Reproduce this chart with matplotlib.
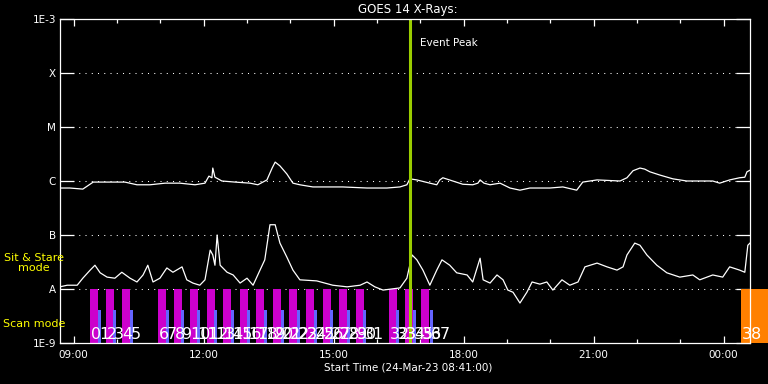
import matplotlib
matplotlib.use('Agg')
import matplotlib.pyplot as plt
import matplotlib.transforms as mtransforms
from matplotlib.ticker import FixedLocator, MultipleLocator, FuncFormatter
import numpy as np

# Time axis in hours of day (values above 24 are after midnight)
t_start = 8 + 41 / 60.0
t_end = 24.61
peak_time = 16.76

# Long channel (1-8 A), log10 flux
long_time = [8.68, 8.91, 9.21, 9.45, 9.84, 10.18, 10.46, 10.76, 11.11, 11.45, 11.80, 12.03,
             12.12, 12.19, 12.21, 12.26, 12.33, 12.42, 12.72, 13.07, 13.25, 13.46, 13.58, 13.65,
             13.76, 13.92, 14.06, 14.22, 14.52, 15.21, 15.77, 16.23, 16.53, 16.69, 16.76, 16.92,
             17.22, 17.38, 17.45, 17.52, 17.75, 17.98, 18.21, 18.33, 18.38, 18.47, 18.61, 18.84,
             19.07, 19.30, 19.53, 19.99, 20.29, 20.61, 20.75, 21.08, 21.61, 21.77, 21.91, 22.07,
             22.18, 22.30, 22.53, 22.83, 23.15, 23.75, 23.91, 24.14, 24.37, 24.49, 24.54, 24.61]
long_log = [-6.13, -6.13, -6.15, -6.02, -6.02, -6.02, -6.07, -6.07, -6.04, -6.04, -6.07, -6.04,
            -5.91, -5.94, -5.76, -5.93, -5.96, -6.00, -6.02, -6.04, -6.07, -5.98, -5.76, -5.65,
            -5.72, -5.87, -6.04, -6.07, -6.11, -6.11, -6.13, -6.13, -6.11, -6.07, -5.96, -5.98,
            -6.04, -6.07, -5.98, -5.94, -6.00, -6.06, -6.07, -6.04, -5.98, -6.04, -6.07, -6.04,
            -6.13, -6.17, -6.13, -6.13, -6.11, -6.17, -6.02, -5.98, -6.00, -5.94, -5.81, -5.76,
            -5.78, -5.83, -5.89, -5.96, -6.00, -6.00, -6.04, -5.98, -5.94, -5.93, -5.83, -5.80]

# Short channel (0.5-4 A)
short_time = [8.68, 8.85, 9.08, 9.21, 9.38, 9.49, 9.61, 9.77, 9.95, 10.11, 10.30, 10.46,
              10.60, 10.71, 10.83, 10.99, 11.15, 11.29, 11.50, 11.61, 11.75, 11.91, 12.03, 12.15,
              12.21, 12.26, 12.31, 12.38, 12.54, 12.68, 12.84, 13.00, 13.14, 13.30, 13.41, 13.53,
              13.65, 13.76, 13.92, 14.06, 14.22, 14.61, 14.98, 15.31, 15.61, 15.77, 15.95, 16.14,
              16.53, 16.69, 16.81, 16.92, 17.06, 17.22, 17.38, 17.50, 17.68, 17.84, 18.08, 18.21,
              18.38, 18.45, 18.61, 18.77, 18.91, 19.02, 19.14, 19.30, 19.46, 19.58, 19.76, 19.92,
              20.06, 20.27, 20.45, 20.64, 20.80, 21.08, 21.31, 21.54, 21.68, 21.77, 21.95, 22.07,
              22.23, 22.46, 22.69, 22.99, 23.29, 23.45, 23.75, 23.98, 24.14, 24.37, 24.49, 24.56,
              24.61]
short_log = [-7.96, -7.93, -7.93, -7.80, -7.65, -7.56, -7.70, -7.78, -7.80, -7.69, -7.80, -7.87,
             -7.74, -7.56, -7.87, -7.80, -7.61, -7.69, -7.59, -7.83, -7.89, -7.93, -7.83, -7.28,
             -7.37, -7.56, -7.00, -7.56, -7.69, -7.74, -7.89, -7.80, -7.93, -7.65, -7.46, -6.81,
             -6.81, -7.15, -7.41, -7.65, -7.83, -7.85, -7.93, -7.96, -7.93, -7.87, -7.96, -8.02,
             -7.98, -7.80, -7.37, -7.46, -7.65, -7.93, -7.65, -7.46, -7.56, -7.70, -7.74, -7.87,
             -7.43, -7.83, -7.89, -7.74, -7.83, -8.02, -8.06, -8.26, -8.06, -7.87, -7.91, -7.87,
             -8.02, -7.83, -7.93, -7.87, -7.59, -7.52, -7.59, -7.65, -7.59, -7.37, -7.15, -7.19,
             -7.37, -7.56, -7.70, -7.78, -7.74, -7.83, -7.74, -7.78, -7.59, -7.65, -7.69, -7.19,
             -7.15]

# Observation blocks: sit & stare starts, scan starts (hours)
stare_start = [9.38, 9.75, 10.11, 10.94, 11.31, 11.68, 12.08, 12.44, 12.84, 13.21,
               13.60, 13.97, 14.36, 14.75, 15.12, 15.51, 16.28, 16.65, 17.01]
scan_start = [9.56, 9.91, 10.30, 11.13, 11.48, 11.84, 12.24, 12.63, 13.00, 13.39,
              13.78, 14.15, 14.54, 14.91, 15.31, 15.68, 16.44, 16.83, 17.22]
stare_len = 0.185
scan_len = 0.07
last_start = 24.40
last_len = 0.62

level_vals = [1e-9, 1e-8, 1e-7, 1e-6, 1e-5, 1e-4, 1e-3]
level_labels = ['1E-9', 'A', 'B', 'C', 'M', 'X', '1E-3']

fig = plt.figure(figsize=(7.68, 3.84), dpi=100, facecolor='black')
ax = fig.add_axes([60 / 768, 41 / 384, 690 / 768, 324 / 384], facecolor='black')
ax.set_yscale('log')
ax.set_ylim(1e-9, 1e-3)
ax.set_xlim(t_start, t_end)

# Dotted grid at flare classes
for v in level_vals[1:-1]:
    ax.axhline(v, color='white', lw=0.75, ls=(0, (1, 5)), zorder=1)

# Sit & stare / scan bars with their running numbers
trans = mtransforms.blended_transform_factory(ax.transData, ax.transAxes)
n = 0
for s, c in zip(stare_start, scan_start):
    ax.bar(s, 1e-8 - 1e-9, width=stare_len, bottom=1e-9, align='edge', color='#cc00cc', zorder=2)
    ax.bar(c, 4.1e-9 - 1e-9, width=scan_len, bottom=1e-9, align='edge', color='#6464ff', zorder=2)
    ax.text(s + 0.02, 0.013, str(n), transform=trans, color='white', fontsize=11.5,
            ha='left', va='baseline', zorder=5)
    ax.text(c + 0.02, 0.013, str(n + 1), transform=trans, color='white', fontsize=11.5,
            ha='left', va='baseline', zorder=5)
    n += 2
ax.bar(last_start, 1e-8 - 1e-9, width=last_len, bottom=1e-9, align='edge', color='#ff8000',
       zorder=2, clip_on=False)
ax.text(last_start + 0.02, 0.013, str(n), transform=trans, color='white', fontsize=11.5,
        ha='left', va='baseline', zorder=5, clip_on=False)

# X-ray curves
ax.plot(long_time, 10 ** np.array(long_log), color='white', lw=0.9, zorder=3)
ax.plot(short_time, 10 ** np.array(short_log), color='white', lw=0.9, zorder=3)

# Event peak marker
ax.axvline(peak_time, color='#9acd00', lw=2.2, zorder=4)
ax.annotate('Event Peak', xy=(peak_time, 1), xycoords=trans, xytext=(7, -17),
            textcoords='offset points', color='white', fontsize=7.5, ha='left', va='center')

# Axes styling
for sp in ax.spines.values():
    sp.set_color('white')
    sp.set_linewidth(0.9)
    sp.set_zorder(6)

ax.yaxis.set_major_locator(FixedLocator(level_vals))
ax.yaxis.set_minor_locator(FixedLocator([]))
ax.set_yticklabels(level_labels)
ax.tick_params(axis='y', which='major', direction='in', length=10, width=0.9, color='white',
               left=True, right=True, labelcolor='white', labelsize=7.5, pad=3)

ax.xaxis.set_major_locator(MultipleLocator(3))
ax.xaxis.set_minor_locator(MultipleLocator(1))
ax.xaxis.set_major_formatter(FuncFormatter(lambda v, p: '%02d:00' % (int(round(v)) % 24)))
ax.tick_params(axis='x', which='major', direction='in', length=5, width=0.9, color='white',
               top=True, bottom=True, labelcolor='white', labelsize=7.5, pad=5)
ax.tick_params(axis='x', which='minor', direction='in', length=3, width=0.9, color='white',
               top=True, bottom=True)

# Titles and side notes
fig.text(408 / 768, 1 - 10 / 384, 'GOES 14 X-Rays:', color='white', fontsize=8.5,
         ha='center', va='center')
fig.text(408 / 768, 1 - 367 / 384, 'Start Time (24-Mar-23 08:41:00)', color='white',
         fontsize=7.5, ha='center', va='center')
fig.text(34 / 768, 1 - 263 / 384, 'Sit & Stare\nmode', color='yellow', fontsize=8,
         ha='center', va='center', linespacing=1.1)
fig.text(34 / 768, 1 - 324 / 384, 'Scan mode', color='yellow', fontsize=8,
         ha='center', va='center')

plt.savefig('out.png', dpi=100, facecolor='black')
